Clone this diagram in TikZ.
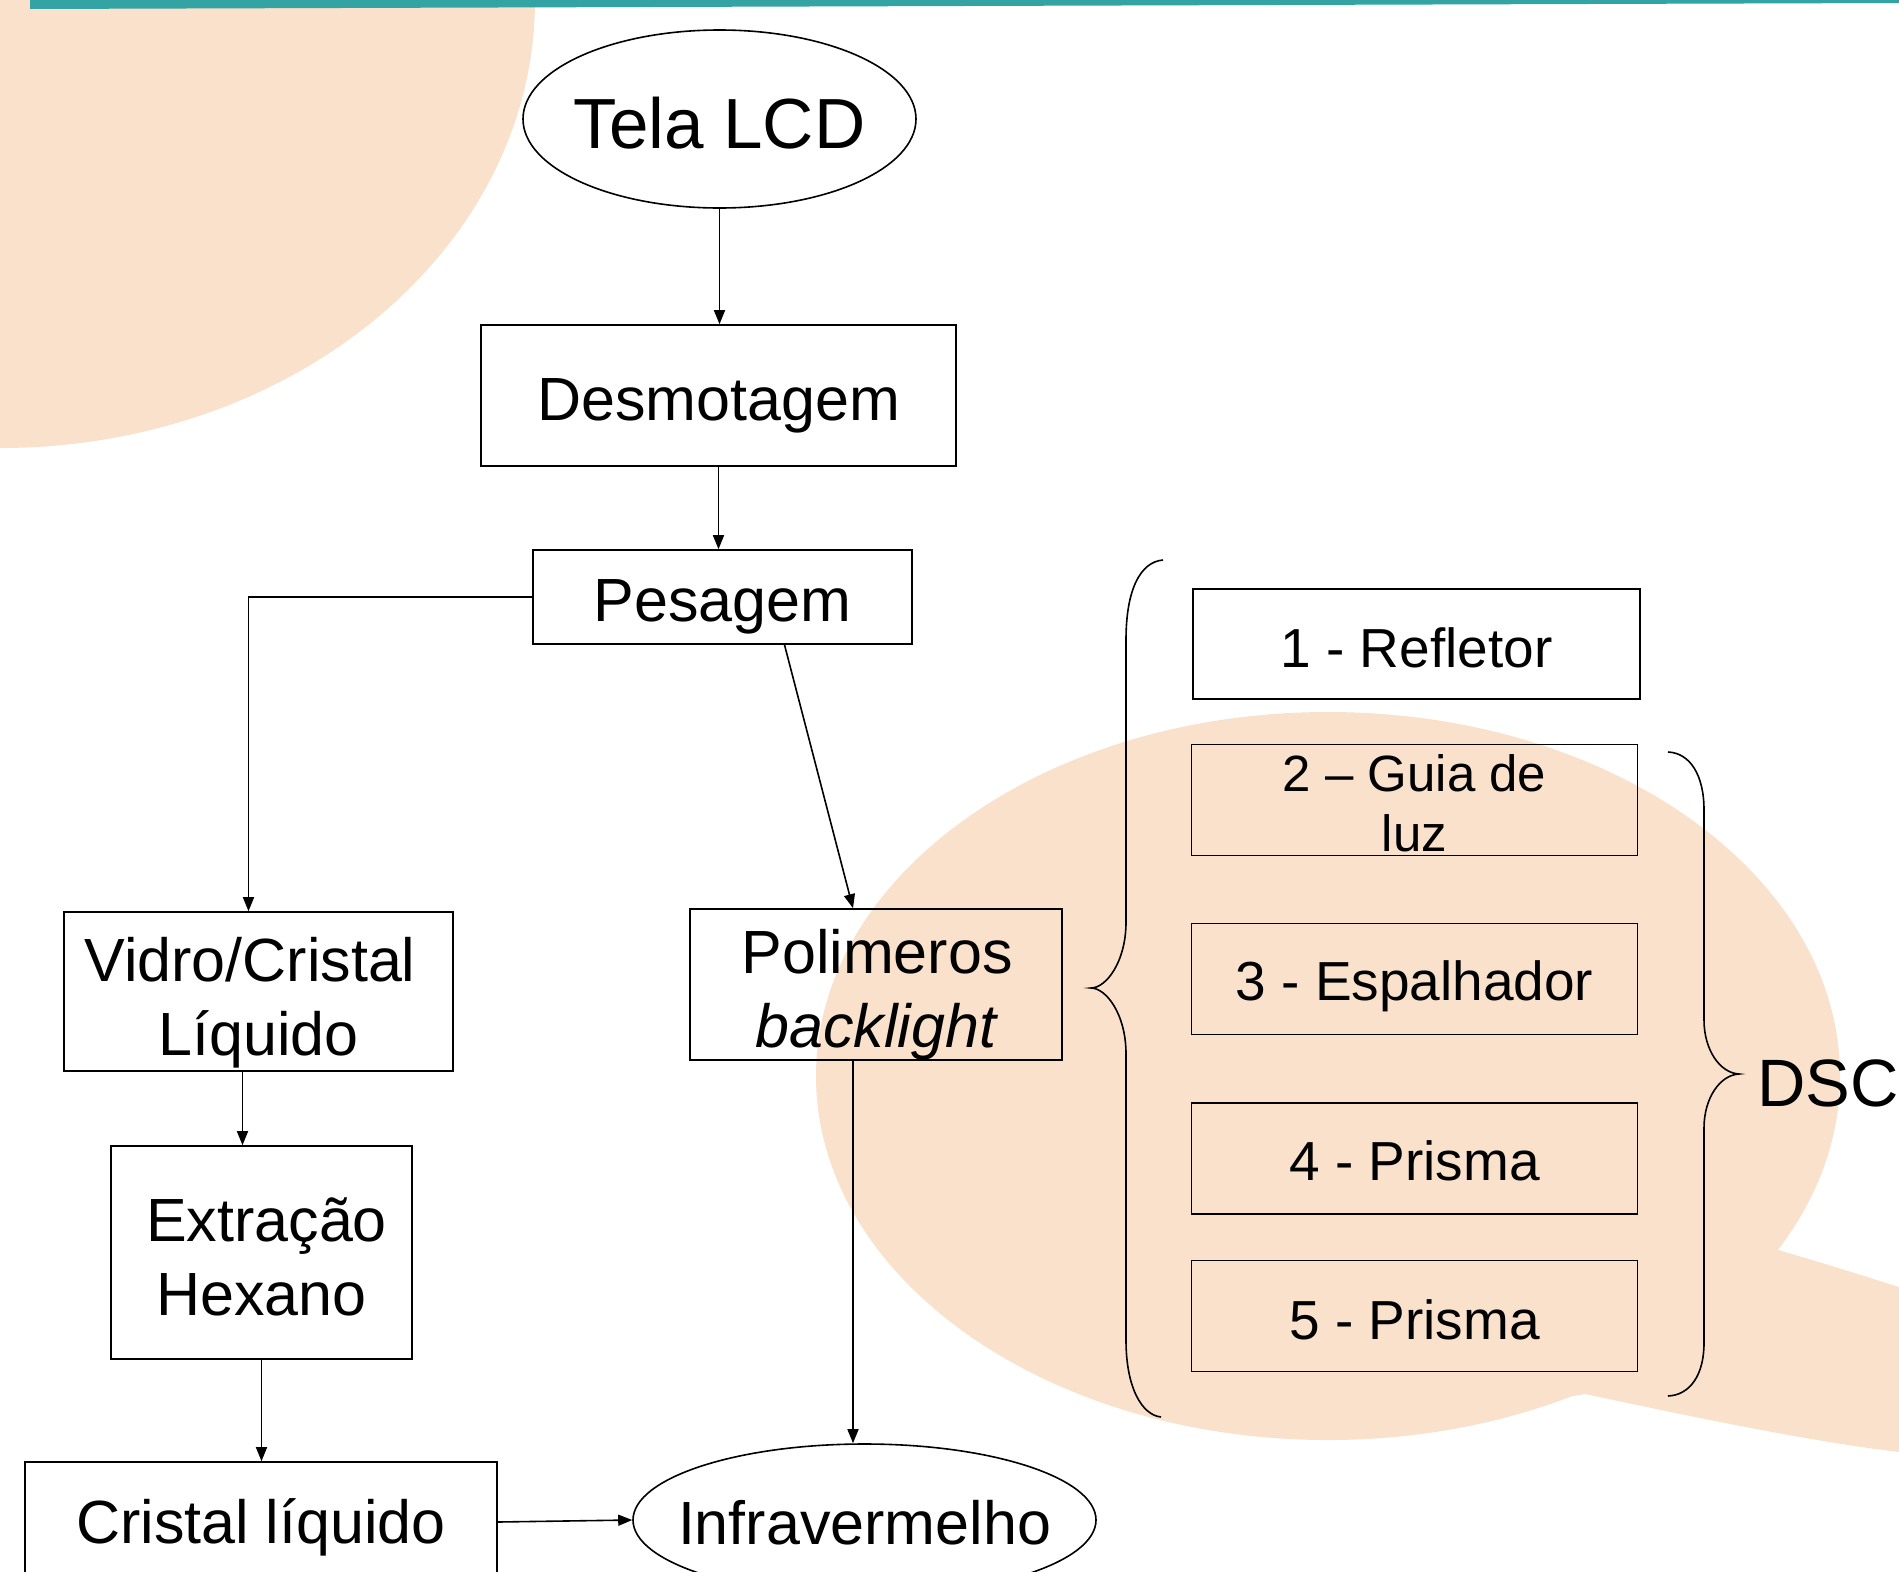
\documentclass[tikz,border=0pt]{standalone}
\usepackage{fontspec}
\setmainfont{Liberation Sans}
\usetikzlibrary{shapes.geometric,arrows.meta,calc}
\definecolor{peach}{RGB}{249,225,204}
\definecolor{barteal}{RGB}{51,163,163}
\newcommand\mainfs{\fontsize{61}{74}\selectfont}
\newcommand\smallfs{\fontsize{55}{60}\selectfont}
\begin{document}
\begin{tikzpicture}[x=1pt,y=-1pt,
  box/.style={draw, line width=1.6pt, inner sep=0pt},
  rbox/.style={draw, line width=1.6pt, inner sep=0pt,
     minimum width=446pt, minimum height=111pt},
  oval/.style={draw, ellipse, line width=1.6pt, inner sep=0pt},
  txt/.style={inner sep=0pt, align=center, font=\mainfs},
  rtxt/.style={inner sep=0pt, align=center, font=\smallfs},
  arr/.style={-{Triangle[length=14pt,width=11pt]}, line width=1.6pt},
  brace/.style={line width=1.6pt}]
\useasboundingbox (0,0) rectangle (1899,1572);
\clip (0,0) rectangle (1899,1572);
% background shapes
\fill[white] (0,0) rectangle (1899,1572);
\fill[peach] (0,0) ellipse [x radius=535, y radius=448];
\fill[peach] (1328,1076) ellipse [x radius=512, y radius=364];
\fill[peach] (1700,1200) -- (1778,1250) .. controls (1830,1265) and (1870,1278) .. (1899,1287)
  -- (1899,1452) .. controls (1800,1440) and (1680,1414) .. (1585,1394)
  -- (1480,1412) -- (1400,1300) -- cycle;
\fill[barteal] (30,0) -- (1899,0) -- (1899,3) -- (30,9) -- cycle;

% shapes
\node[oval, minimum width=393pt, minimum height=178pt] (tela) at (719.5,119) {};
\node[box, minimum width=475pt, minimum height=141pt] (desm) at (718.5,395.5) {};
\node[box, minimum width=379pt, minimum height=94pt] (pes) at (722.5,597) {};
\node[box, minimum width=389pt, minimum height=159pt] (vid) at (258.5,991.5) {};
\node[box, minimum width=372pt, minimum height=151pt] (poli) at (876,984.5) {};
\node[box, minimum width=301pt, minimum height=213pt] (ext) at (261.5,1252.5) {};
\node[box, minimum width=472pt, minimum height=120pt] (crist) at (261,1522) {};
\node[oval, minimum width=463pt, minimum height=152pt] (infra) at (864.5,1520) {};
\node[rbox, minimum width=447pt, minimum height=110pt] (r1) at (1416.5,644) {};
\node[rbox] (r2) at (1414.5,800) {};
\node[rbox] (r3) at (1414.5,979) {};
\node[rbox] (r4) at (1414.5,1158.5) {};
\node[rbox] (r5) at (1414.5,1316) {};

% texts
\node[txt, font=\fontsize{71}{80}\selectfont] (telaT) at ($(tela.center)+(0,4)$) {Tela LCD};
\node[txt] (desmT) at ($(desm.center)+(0,10)$) {Desmotagem};
\node[txt] (pesT) at ($(pes.center)+(0,10)$) {Pesagem};
\node[txt] (vidT) at ($(vid.center)+(0,11)$) {Vidro/Cristal\hspace*{17pt}\\Líquido};
\node[txt] (poliT) at ($(poli.center)+(1,10)$) {Polimeros\\\textit{backlight}};
\node[txt] (extT) at ($(ext.center)+(0,4)$) {\hspace*{10pt}Extração\\Hexano};
\node[txt] (cristT) at ($(crist.center)+(0,5)$) {Cristal líquido};
\node[txt] (infraT) at ($(infra.center)+(0,3)$) {Infravermelho};
\node[rtxt] (r1T) at ($(r1.center)+(0,4)$) {1 - Refletor};
\node[rtxt, font=\fontsize{51}{60}\selectfont] (r2T) at ($(r2.center)+(0,3)$) {2 – Guia de\\luz};
\node[rtxt] (r3T) at ($(r3.center)+(0,7)$) {3 - Espalhador};
\node[rtxt] (r4T) at ($(r4.center)+(0,2)$) {4 - Prisma};
\node[rtxt] (r5T) at ($(r5.center)+(0,4)$) {5 - Prisma};
\node[inner sep=0pt, anchor=west, font=\fontsize{67}{76}\selectfont] (dsc) at (1757,1083) {DSC};

% braces
\draw[brace] (1163,560) .. controls (1140,562) and (1126,590) .. (1126,640) -- (1126,922)
  .. controls (1126,962) and (1106,988) .. (1091,988)
  .. controls (1106,988) and (1126,1014) .. (1126,1054) -- (1126,1340)
  .. controls (1126,1388) and (1142,1415) .. (1161,1417);
\draw[brace] (1668,752) .. controls (1690,753) and (1704,775) .. (1704,810) -- (1704,1020)
  .. controls (1704,1050) and (1720,1073) .. (1739,1074)
  .. controls (1720,1075) and (1704,1098) .. (1704,1128) -- (1704,1343)
  .. controls (1704,1375) and (1690,1395) .. (1668,1396);

% connectors
\draw[arr] (tela.south) -- (tela.south |- desm.north);
\draw[arr] (desm.south) -- (desm.south |- pes.north);
\draw[arr] (pes.west) -| ($(vid.north)+(-10,0)$);
\draw[arr] ($(pes.south)+(62,0)$) -- ($(poli.north)+(-23,0)$);
\coordinate (pb) at ($(poli.south)+(-23,0)$);
\draw[arr] (pb) -- (pb |- infra.north);
\coordinate (vb) at ($(vid.south)+(-16,0)$);
\draw[arr] (vb) -- (vb |- ext.north);
\draw[arr] (ext.south) -- (ext.south |- crist.north);
\draw[arr] (crist.east) -- (infra.west);
\end{tikzpicture}
\end{document}
